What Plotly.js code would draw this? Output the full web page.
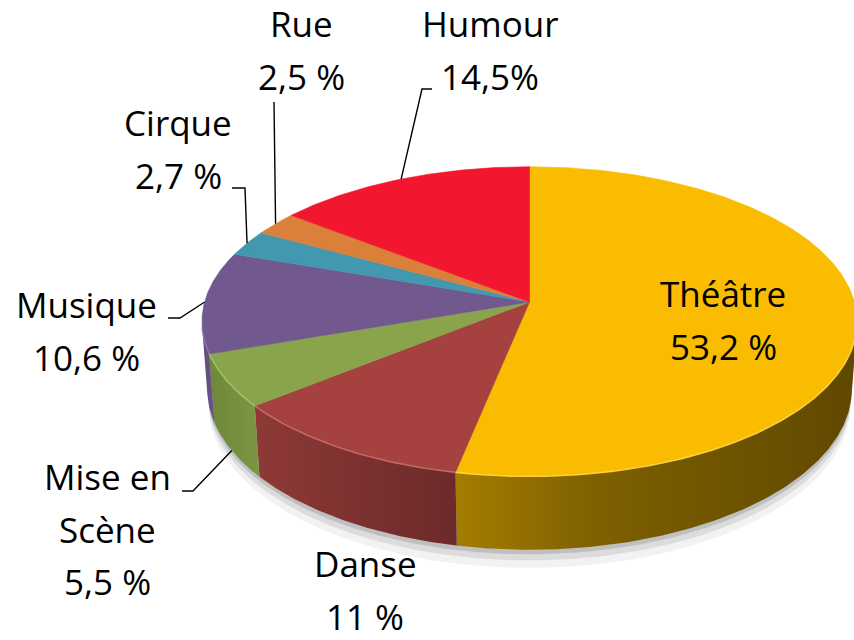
<!DOCTYPE html>
<html><head><meta charset="utf-8">
<script src="https://cdn.plot.ly/plotly-3.0.1.min.js"></script>
<style>html,body{margin:0;padding:0;background:#fff;overflow:hidden}</style>
</head><body><div id="chart" style="width:854px;height:640px"></div>
<script>
// ---- data ----
const categories = ['Théâtre', 'Danse', 'Mise en Scène', 'Musique', 'Cirque', 'Rue', 'Humour'];
const values = [53.2, 11, 5.5, 10.6, 2.7, 2.5, 14.5];
const nameLabels = ['Théâtre', 'Danse', 'Mise en<br>Scène', 'Musique', 'Cirque', 'Rue', 'Humour'];
const valueLabels = ['53,2 %', '11 %', '5,5 %', '10,6 %', '2,7 %', '2,5 %', '14,5%'];

// ---- styles ----
const topColors = ['#F9BC00', '#A5423F', '#8AA44C', '#71588F', '#4198AF', '#DA803A', '#F2162E'];
const wallScales = [
  [[0, '#A47D00'], [0.35, '#7E6000'], [1, '#604800']],
  [[0, '#8E3936'], [1, '#6C2A2A']],
  [[0, '#6E883A'], [1, '#7B9643']],
  [[0, '#634D7E'], [1, '#6A5386']],
  [[0, '#367F93'], [1, '#367F93']],
  [[0, '#B86A30'], [1, '#B86A30']],
  [[0, '#C81224'], [1, '#C81224']]
];
const rimColors = ['#FFD84A', '#C9706B', '#A9C46A', '#8E76AD', '#5FB3C8', '#F0A060', '#FF5060'];

// ---- view / layout constants ----
const VIEW = {cx: 529.5, cy: 302, F: 2271, D: 6.99, sinTilt: 0.469, thick: 0.237};
const FONT = {family: 'Open Sans, Noto Sans, sans-serif', size: 35, color: '#000'};
const LINE_GAP = 52.5;
const BASE_SHIFT = 13.5;
// label block anchor: center x, baseline of the first line
const labelPos = [[723, 307], [365, 577], [107, 490], [86, 318], [178, 136], [301, 37], [490, 37]];
// leader lines: label-side points (then the rim point of the slice), null = none
const leaderStart = [null, null, [[182, 491], [193, 491]], [[168, 318], [180, 318]],
  [[232, 188], [245, 188]], [[274, 102]], [[432, 89], [422, 89]]];

function project(theta, bottom, extra) {
  const s = VIEW.sinTilt, c = Math.sqrt(1 - s * s);
  const u = Math.sin(theta), w = Math.cos(theta);
  const h = bottom ? VIEW.thick + (extra || 0) : 0;
  const X = u, Y = w * s - h * c, Z = VIEW.D + w * c + h * s;
  return [VIEW.cx + VIEW.F * X / Z, VIEW.cy - VIEW.F * Y / Z];
}
function arc(a0, a1, bottom, extra) {
  const n = Math.max(2, Math.ceil(Math.abs(a1 - a0) / (Math.PI / 360)));
  const pts = [];
  for (let i = 0; i <= n; i++) pts.push(project(a0 + (a1 - a0) * i / n, bottom, extra));
  return pts;
}
const xs = pts => pts.map(p => p[0]);
const ys = pts => pts.map(p => p[1]);

const total = values.reduce((a, b) => a + b, 0);
const starts = [], ends = [];
let acc = 0;
values.forEach(v => { starts.push(acc / total * 2 * Math.PI); acc += v; ends.push(acc / total * 2 * Math.PI); });

const cosT = Math.sqrt(1 - VIEW.sinTilt * VIEW.sinTilt);
const visA = Math.acos(-1 / (cosT * VIEW.D));
const visB = 2 * Math.PI - visA;

const traces = [];
// soft shadow under the disc
[0.06, 0.035, 0.015].forEach((ex, k) => {
  const pts = arc(visA - 0.05, visB + 0.05, false).concat(arc(visB + 0.05, visA - 0.05, true, ex));
  pts.push(pts[0]);
  traces.push({
    type: 'scatter', mode: 'lines', x: xs(pts), y: ys(pts), fill: 'toself',
    fillcolor: 'rgba(0,0,0,' + (0.05 + 0.04 * k) + ')', line: {width: 0}, hoverinfo: 'skip'
  });
});
// walls
values.forEach((v, i) => {
  const a0 = Math.max(starts[i], visA), a1 = Math.min(ends[i], visB);
  if (a1 <= a0) return;
  const pts = arc(a0, a1, false).concat(arc(a1, a0, true));
  pts.push(pts[0]);
  traces.push({
    type: 'scatter', mode: 'lines', x: xs(pts), y: ys(pts),
    fill: 'toself', fillcolor: wallScales[i][0][1],
    fillgradient: {type: 'horizontal', colorscale: wallScales[i]},
    line: {width: 0}, hoverinfo: 'skip', name: categories[i] + ' side'
  });
});
// top faces
values.forEach((v, i) => {
  const cen = [VIEW.cx, VIEW.cy];
  const pts = [cen].concat(arc(starts[i], ends[i], false));
  pts.push(cen);
  traces.push({
    type: 'scatter', mode: 'lines', x: xs(pts), y: ys(pts),
    fill: 'toself', fillcolor: topColors[i], line: {width: 0.6, color: topColors[i]},
    hoverinfo: 'skip', name: categories[i]
  });
});
// rim highlight on visible front
values.forEach((v, i) => {
  const a0 = Math.max(starts[i], visA), a1 = Math.min(ends[i], visB);
  if (a1 <= a0) return;
  const pts = arc(a0, a1, false);
  traces.push({
    type: 'scatter', mode: 'lines', x: xs(pts), y: ys(pts),
    line: {width: 1.6, color: rimColors[i]}, opacity: 0.8, hoverinfo: 'skip'
  });
});
// leader lines
values.forEach((v, i) => {
  if (!leaderStart[i]) return;
  const mid = (starts[i] + ends[i]) / 2;
  const front = Math.cos(mid) < -1 / (cosT * VIEW.D);
  const end = project(mid, front);
  const pts = leaderStart[i].concat([end]);
  traces.push({
    type: 'scatter', mode: 'lines', x: xs(pts), y: ys(pts),
    line: {width: 1.4, color: '#000'}, hoverinfo: 'skip'
  });
});

// labels
const annotations = [];
values.forEach((v, i) => {
  const lines = nameLabels[i].split('<br>').concat([valueLabels[i]]);
  lines.forEach((t, k) => {
    annotations.push({
      x: labelPos[i][0], y: labelPos[i][1] + k * LINE_GAP - BASE_SHIFT,
      xref: 'x', yref: 'y', text: t, showarrow: false,
      xanchor: 'center', yanchor: 'middle', font: FONT
    });
  });
});

const layout = {
  width: 854, height: 640, margin: {l: 0, r: 0, t: 0, b: 0},
  paper_bgcolor: '#fff', plot_bgcolor: '#fff', showlegend: false,
  xaxis: {range: [0, 854], visible: false, fixedrange: true},
  yaxis: {range: [640, 0], visible: false, fixedrange: true},
  annotations: annotations
};
Plotly.newPlot('chart', traces, layout, {staticPlot: true, displayModeBar: false});
</script>
</body></html>
